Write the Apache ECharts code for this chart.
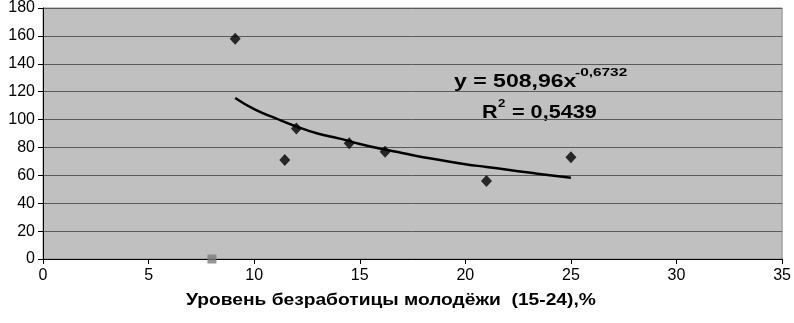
<!DOCTYPE html>
<html>
<head>
<meta charset="utf-8">
<script src="https://cdn.jsdelivr.net/npm/echarts@6/dist/echarts.min.js"></script>
<style>
html, body { margin: 0; padding: 0; background: #fff; }
#ct1 { width: 794px; height: 323px; }
</style>
</head>
<body>
<div id="ct1"></div>
<script>
// точки (уровень безработицы молодёжи, показатель)
var pointsX = [9.1, 11.45, 12.0, 14.5, 16.2, 21.0, 25.0];
var pointsY = [158, 71, 93.5, 83, 77, 56, 73];
// отдельная серая точка
var extraX = [8.0];
var extraY = [0];
// линия тренда
var trendX = [9.1, 10, 11, 12, 13, 14, 15, 16, 17, 18, 19, 20, 21, 22, 23, 24, 25];
var trendY = [115.5, 107.5, 101, 95, 90, 86.5, 82.5, 79, 76, 73, 70.5, 68, 66, 64, 62, 60, 58.3];
var yTicks = [0, 20, 40, 60, 80, 100, 120, 140, 160, 180];
var xTicks = [0, 5, 10, 15, 20, 25, 30, 35];

function pairs(xs, ys) {
    var out = [];
    for (var i = 0; i < xs.length; i++) {
        out.push([xs[i], ys[i]]);
    }
    return out;
}

function label(x, y, text, font, sx) {
    return {
        type: 'text', x: x, y: y, scaleX: sx, originX: 0, originY: 0,
        style: { text: text, font: font, fill: '#000', textVerticalAlign: 'top', verticalAlign: 'top' }
    };
}

var myChart1 = null;
var option1 = {
    animation: false,
    backgroundColor: '#ffffff',
    grid: { left: 43, right: 10, top: 7, bottom: 64, show: true, backgroundColor: '#c0c0c0', borderColor: '#8a8a8a', borderWidth: 1 },
    xAxis: {
        type: 'value', min: xTicks[0], max: xTicks[xTicks.length - 1], interval: 5,
        axisLine: { show: true, lineStyle: { color: '#000', width: 1 } },
        axisTick: { show: true, length: 5, lineStyle: { color: '#000' } },
        axisLabel: { margin: 9, fontFamily: 'Liberation Sans', fontSize: 16, color: '#000' },
        splitLine: { show: false }
    },
    yAxis: {
        type: 'value', min: yTicks[0], max: yTicks[yTicks.length - 1], interval: 20,
        axisLine: { show: true, lineStyle: { color: '#000', width: 1 } },
        axisTick: { show: true, length: 5, lineStyle: { color: '#000' } },
        axisLabel: { margin: 8, fontFamily: 'Liberation Sans', fontSize: 16, color: '#000' },
        splitLine: { show: true, lineStyle: { color: '#5a5a5a', width: 1 } }
    },
    series: [
        {
            type: 'line', data: pairs(trendX, trendY), smooth: true, symbol: 'none',
            lineStyle: { color: '#000', width: 2.5 }, z: 3
        },
        {
            type: 'scatter', data: pairs(pointsX, pointsY), symbol: 'diamond', symbolSize: [11, 12],
            itemStyle: { color: '#000' }, z: 4
        },
        {
            type: 'scatter', data: pairs(extraX, extraY), symbol: 'rect', symbolSize: 9,
            itemStyle: { color: '#7a7a7a' }, z: 4
        }
    ],
    graphic: [
        label(454, 73, 'y = 508,96x', 'bold 18px Liberation Sans', 1.28),
        label(575, 67, '-0,6732', 'bold 11px Liberation Sans', 1.4),
        label(482, 104, 'R', 'bold 18px Liberation Sans', 1.2),
        label(498, 98, '2', 'bold 11px Liberation Sans', 1.2),
        label(512, 104, '= 0,5439', 'bold 18px Liberation Sans', 1.2),
        label(186, 293, 'Уровень безработицы молодёжи  (15-24),%', 'bold 16px Liberation Sans', 1.2)
    ]
};

function initMyChar1() {
    if (myChart1 && myChart1.dispose) {
        myChart1.dispose();
    }
    myChart1 = echarts.init(document.getElementById('ct1'));
    myChart1.setOption(option1, true);
}

initMyChar1();
</script>
</body>
</html>
